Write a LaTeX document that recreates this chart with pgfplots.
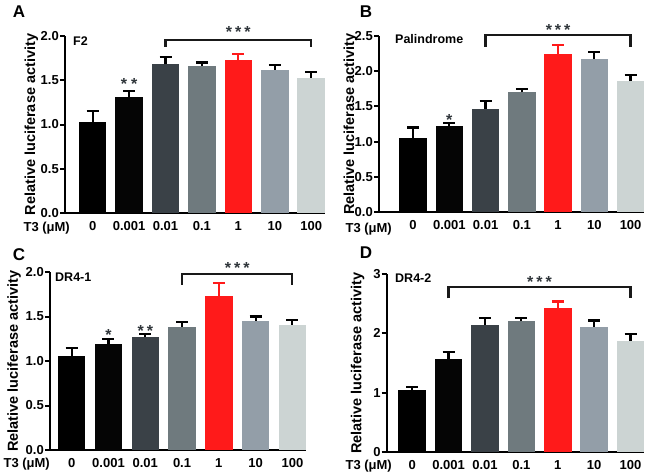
\documentclass[border=0pt]{standalone}
\usepackage{pgfplots}
\pgfplotsset{compat=1.18}
\usepackage{fontspec}
\setmainfont{Liberation Sans}
\definecolor{cA}{HTML}{000000}
\definecolor{cB}{HTML}{050505}
\definecolor{cC}{HTML}{3A4147}
\definecolor{cD}{HTML}{6F7A7E}
\definecolor{cE}{HTML}{FF1A1A}
\definecolor{cF}{HTML}{939EA8}
\definecolor{cG}{HTML}{CCD4D3}
\definecolor{starc}{HTML}{30363B}
\newcommand{\tfont}{\bfseries\fontsize{13}{13}\selectfont}
\newcommand{\sfont}{\bfseries\fontsize{16}{16}\selectfont}
\newcommand{\lfont}{\bfseries\fontsize{14.5}{14.5}\selectfont}
\newcommand{\onebar}[4]{%
  \addplot[fill=#3, draw=none, bar shift=0pt,
    error bars/.cd, y dir=plus, y explicit,
    error bar style={line width=2.2pt, draw=#4, solid},
    error mark options={rotate=90, line width=2.2pt, draw=#4, mark size=6pt}]
    coordinates {#1 +- (0,#2)};}
\pgfplotsset{panel/.style={
  scale only axis, ybar, bar width=27.5pt,
  axis x line*=bottom, axis y line*=left,
  axis line style={line width=2pt, black},
  enlargelimits=false, ymin=0, clip=false,
  xtick={0,1,2,3,4,5,6},
  xticklabels={0,0.001,0.01,0.1,1,10,100},
  x tick style={draw=none},
  y tick style={line width=2pt, black},
  tick align=outside, major tick length=5pt,
  /pgf/number format/assume math mode=true,
  ticklabel style={font=\tfont},
  yticklabel style={inner xsep=1pt},
  ylabel={Relative luciferase activity},
  ylabel style={font=\lfont, anchor=center},
}}
\begin{document}
\begin{tikzpicture}[x=1pt,y=1pt]
\path[use as bounding box] (0,0) rectangle (661,475);
% Panel A
\begin{axis}[panel, at={(65pt,262pt)}, anchor=south west,
  width=260pt, height=177pt, xmin=-0.76, xmax=6.38, ymax=2.0,
  ytick={0,0.5,1,1.5,2},
  yticklabel style={/pgf/number format/.cd, fixed, fixed zerofill, precision=1},
  ylabel style={at={(axis description cs:-0.129,0.5)}}]
\onebar{(0,1.03)}{0.12}{cA}{black}
\onebar{(1,1.31)}{0.07}{cB}{black}
\onebar{(2,1.68)}{0.08}{cC}{black}
\onebar{(3,1.66)}{0.04}{cD}{black}
\onebar{(4,1.73)}{0.07}{cE}{cE}
\onebar{(5,1.62)}{0.05}{cF}{black}
\onebar{(6,1.53)}{0.06}{cG}{black}
\draw[line width=2.2pt, black!90] (axis cs:2,1.876) -- (axis cs:2,1.955) -- (axis cs:6,1.955) -- (axis cs:6,1.876);
\node[anchor=base, font=\sfont, text=starc] at (axis cs:4,1.98) {*\hspace{3pt}*\hspace{3pt}*};
\node[anchor=base, font=\sfont, text=starc] at (axis cs:1,1.39) {*\hspace{4pt}*};
\end{axis}
% Panel B
\begin{axis}[panel, at={(379pt,263pt)}, anchor=south west,
  width=265pt, height=176pt, xmin=-0.94, xmax=6.37, ymax=2.5,
  ytick={0,0.5,1,1.5,2,2.5},
  yticklabel style={/pgf/number format/.cd, fixed, fixed zerofill, precision=1},
  ylabel style={at={(axis description cs:-0.108,0.5)}}]
\onebar{(0,1.05)}{0.15}{cA}{black}
\onebar{(1,1.22)}{0.04}{cB}{black}
\onebar{(2,1.47)}{0.11}{cC}{black}
\onebar{(3,1.70)}{0.05}{cD}{black}
\onebar{(4,2.25)}{0.12}{cE}{cE}
\onebar{(5,2.17)}{0.10}{cF}{black}
\onebar{(6,1.86)}{0.09}{cG}{black}
\draw[line width=2.2pt, black!90] (axis cs:2,2.35) -- (axis cs:2,2.51) -- (axis cs:6,2.51) -- (axis cs:6,2.35);
\node[anchor=base, font=\sfont, text=starc] at (axis cs:4,2.51) {*\hspace{3pt}*\hspace{3pt}*};
\node[anchor=base, font=\sfont, text=starc] at (axis cs:1,1.225) {*};
\end{axis}
% Panel C
\begin{axis}[panel, at={(50pt,25pt)}, anchor=south west,
  width=256pt, height=178pt, xmin=-0.59, xmax=6.37, ymax=2.0,
  ytick={0,0.5,1,1.5,2},
  yticklabel style={/pgf/number format/.cd, fixed, fixed zerofill, precision=1},
  ylabel style={at={(axis description cs:-0.14,0.5)}}]
\onebar{(0,1.06)}{0.09}{cA}{black}
\onebar{(1,1.19)}{0.06}{cB}{black}
\onebar{(2,1.275)}{0.03}{cC}{black}
\onebar{(3,1.38)}{0.06}{cD}{black}
\onebar{(4,1.73)}{0.145}{cE}{cE}
\onebar{(5,1.45)}{0.05}{cF}{black}
\onebar{(6,1.41)}{0.05}{cG}{black}
\draw[line width=2.2pt, black!90] (axis cs:3,1.857) -- (axis cs:3,1.98) -- (axis cs:6,1.98) -- (axis cs:6,1.857);
\node[anchor=base, font=\sfont, text=starc] at (axis cs:4.5,1.98) {*\hspace{3pt}*\hspace{3pt}*};
\node[anchor=base, font=\sfont, text=starc] at (axis cs:1,1.227) {*};
\node[anchor=base, font=\sfont, text=starc] at (axis cs:2,1.28) {*\hspace{3pt}*};
\end{axis}
% Panel D
\begin{axis}[panel, at={(386.7pt,23.3pt)}, anchor=south west,
  width=257.3pt, height=177.4pt, xmin=-0.70, xmax=6.37, ymax=3,
  ytick={0,1,2,3},
  ylabel style={at={(axis description cs:-0.113,0.5)}}]
\onebar{(0,1.04)}{0.06}{cA}{black}
\onebar{(1,1.57)}{0.12}{cB}{black}
\onebar{(2,2.15)}{0.11}{cC}{black}
\onebar{(3,2.21)}{0.05}{cD}{black}
\onebar{(4,2.43)}{0.11}{cE}{cE}
\onebar{(5,2.11)}{0.11}{cF}{black}
\onebar{(6,1.88)}{0.11}{cG}{black}
\draw[line width=2.2pt, black!90] (axis cs:1,2.595) -- (axis cs:1,2.78) -- (axis cs:6,2.78) -- (axis cs:6,2.595);
\node[anchor=base, font=\sfont, text=starc] at (axis cs:3.5,2.78) {*\hspace{3pt}*\hspace{3pt}*};
\end{axis}
% panel letters
\node[font=\bfseries\fontsize{17}{17}\selectfont] at (19,463) {A};
\node[font=\bfseries\fontsize{17}{17}\selectfont] at (366,463) {B};
\node[font=\bfseries\fontsize{17}{17}\selectfont] at (19,220) {C};
\node[font=\bfseries\fontsize{17}{17}\selectfont] at (366,222) {D};
% inner labels
\node[anchor=west, inner sep=0pt, font=\bfseries\fontsize{12.5}{12.5}\selectfont] at (73,434) {F2};
\node[anchor=west, inner sep=0pt, font=\bfseries\fontsize{12.5}{12.5}\selectfont] at (395,436) {Palindrome};
\node[anchor=west, inner sep=0pt, font=\bfseries\fontsize{12.5}{12.5}\selectfont] at (55,198) {DR4-1};
\node[anchor=west, inner sep=0pt, font=\bfseries\fontsize{12.5}{12.5}\selectfont] at (395,197) {DR4-2};
% T3 labels
\node[anchor=base east, inner sep=0pt, font=\tfont] at (70,243.5) {T3 (μM)};
\node[anchor=base east, inner sep=0pt, font=\tfont] at (392,242.5) {T3 (μM)};
\node[anchor=base east, inner sep=0pt, font=\tfont] at (50,7.5) {T3 (μM)};
\node[anchor=base east, inner sep=0pt, font=\tfont] at (392,5.5) {T3 (μM)};
\end{tikzpicture}
\end{document}
